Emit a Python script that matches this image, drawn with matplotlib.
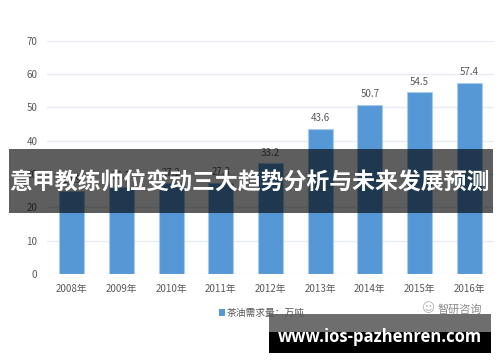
import matplotlib.pyplot as plt
from matplotlib.patches import Patch, Rectangle

plt.rcParams['font.family'] = ['Noto Sans CJK SC', 'DejaVu Sans']

years = ['2008年', '2009年', '2010年', '2011年', '2012年', '2013年', '2014年', '2015年', '2016年']
demand = [24.9, 26.2, 27.2, 27.3, 33.2, 43.6, 50.7, 54.5, 57.4]
y_ticks = [0, 10, 20, 30, 40, 50, 60, 70]
series_name = '茶油需求量：万吨'
banner_title = '意甲教练帅位变动三大趋势分析与未来发展预测'
watermark = 'www.ios-pazhenren.com'
logo_text = '智研咨询'

W, H = 500, 362
fig = plt.figure(figsize=(W / 100, H / 100), dpi=100)
ax = fig.add_axes([47 / W, 1 - 274 / H, 447 / W, 233.3 / H])

x = range(len(years))
bars = ax.bar(x, demand, width=0.5, color='#5698d6', edgecolor='#a9cbec', linewidth=0.8, zorder=2)
for rect, v in zip(bars, demand):
    ax.annotate(f'{v:.1f}', (rect.get_x() + rect.get_width() / 2, v),
                xytext=(0, 4), textcoords='offset points', ha='center', va='bottom',
                fontsize=7, color='#595959')

ax.set_xlim(-0.5, len(years) - 0.5)
ax.set_ylim(0, 70)
ax.set_yticks(y_ticks)
ax.set_xticks(list(x))
ax.set_xticklabels(years)
ax.tick_params(length=0, labelsize=7, colors='#595959')
ax.tick_params(axis='y', pad=7)
ax.tick_params(axis='x', pad=7)
ax.grid(axis='y', color='#e8ebf2', linewidth=1, zorder=0)
ax.set_axisbelow(True)
for s in ax.spines.values():
    s.set_visible(False)

# legend
fig.legend(handles=[Patch(facecolor='#5698d6', label=series_name)],
           loc='center', bbox_to_anchor=(262 / W, 1 - 313 / H), frameon=False,
           fontsize=7, handlelength=0.6, handleheight=0.6, handletextpad=0.2,
           labelcolor='#595959')

# logo
fig.text(460 / W, 1 - 310 / H, logo_text, fontsize=8, color='#8a8a8a', ha='center', va='center')
fig.text(428 / W, 1 - 309 / H, '\u263a', fontsize=9, color='#b0b0b0', ha='center', va='center',
         family='DejaVu Sans')

# banner overlay
fig.patches.append(Rectangle((9 / W, 1 - 213 / H), 484 / W, 64 / H, transform=fig.transFigure,
                             facecolor='black', alpha=0.63, edgecolor='none', zorder=5))
fig.text(249 / W, 1 - 182 / H, banner_title, fontsize=16.5, fontweight='bold', color='white',
         ha='center', va='center', zorder=6)

# watermark box
fig.patches.append(Rectangle((269 / W, 1 - 332 / H), 222 / W, 18 / H, transform=fig.transFigure,
                             facecolor='#555555', alpha=0.85, edgecolor='none', zorder=5))
fig.patches.append(Rectangle((269 / W, 1 - 353 / H), 222 / W, 21 / H, transform=fig.transFigure,
                             facecolor='black', edgecolor='none', zorder=5))
fig.text(380 / W, 1 - 337 / H, watermark, fontsize=12, fontweight='bold', color='white',
         ha='center', va='center', family='Open Sans', zorder=6)

fig.savefig('out.png', dpi=100)
